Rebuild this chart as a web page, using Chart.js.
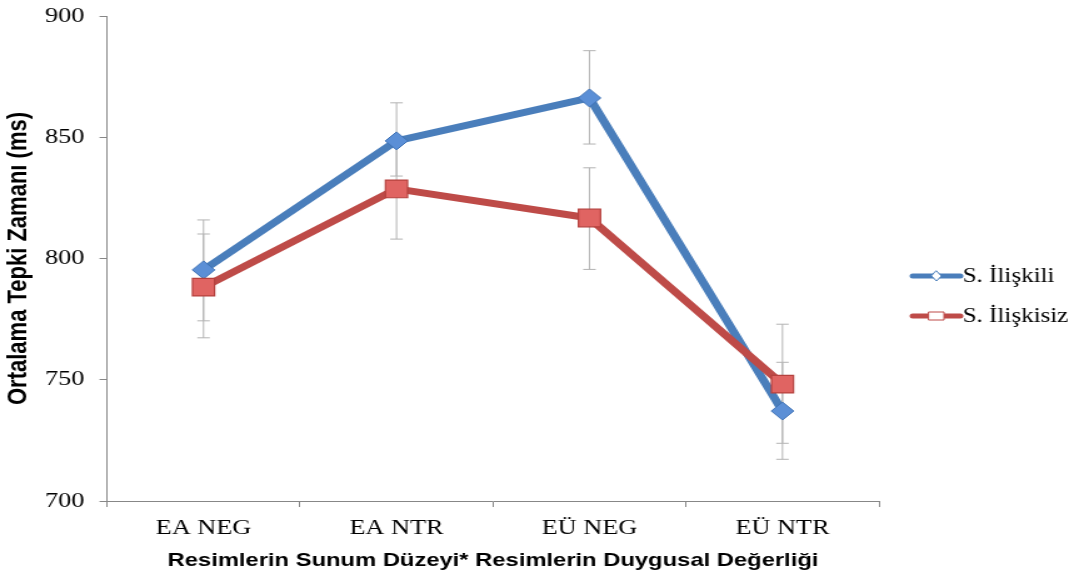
<!DOCTYPE html>
<html>
<head>
<meta charset="utf-8">
<script src="https://cdn.jsdelivr.net/npm/chart.js@4"></script>
<style>
  html, body { margin: 0; padding: 0; background: #ffffff; overflow: hidden; }
  #wrap { width: 867px; height: 575px; transform: scaleX(1.25029); transform-origin: 0 0; }
  canvas { display: block; }
</style>
</head>
<body>
<div id="wrap"><canvas id="c" width="867" height="575"></canvas></div>
<script>
const categories = ['EA NEG', 'EA NTR', 'EÜ NEG', 'EÜ NTR'];
const seriesNames = ['S. İlişkili', 'S. İlişkisiz'];
const iliskili = [795.3, 848.5, 866.2, 737.1];
const iliskisiz = [788.2, 828.7, 816.7, 748.2];
const iliskiliErrUp = [20.6, 15.7, 19.5, 20.1];
const iliskiliErrDown = [21.0, 14.5, 19.0, 13.3];
const iliskisizErrUp = [21.9, 20.7, 20.7, 24.7];
const iliskisizErrDown = [20.9, 20.7, 21.2, 31.0];
const yTicks = [700, 750, 800, 850, 900];

const errUp = [iliskiliErrUp, iliskisizErrUp];
const errDown = [iliskiliErrDown, iliskisizErrDown];

const BLUE = '#4A7EBB';
const RED = '#BE4B48';
const AXIS = '#878787';
const SERIF = "'Liberation Serif', 'Times New Roman', serif";
const SANS = "'Liberation Sans', Arial, sans-serif";

const errorBars = {
  id: 'errorBars',
  beforeDatasetsDraw(chart) {
    const ctx = chart.ctx;
    const ys = chart.scales.y;
    ctx.save();
    ctx.strokeStyle = '#B3B3B3';
    ctx.lineWidth = 1;
    chart.data.datasets.forEach((ds, i) => {
      const meta = chart.getDatasetMeta(i);
      ds.data.forEach((v, j) => {
        const x = meta.data[j].x;
        const yt = ys.getPixelForValue(v + errUp[i][j]);
        const yb = ys.getPixelForValue(v - errDown[i][j]);
        ctx.beginPath();
        ctx.moveTo(x, yt); ctx.lineTo(x, yb);
        ctx.moveTo(x - 5, yt); ctx.lineTo(x + 5, yt);
        ctx.moveTo(x - 5, yb); ctx.lineTo(x + 5, yb);
        ctx.stroke();
      });
    });
    ctx.restore();
  }
};

const customLegend = {
  id: 'customLegend',
  afterDraw(chart) {
    const ctx = chart.ctx;
    ctx.save();
    const x1 = 730, x2 = 768, tx = 770;
    const rows = [276, 316];
    chart.data.datasets.forEach((ds, i) => {
      const y = rows[i];
      ctx.strokeStyle = ds.borderColor;
      ctx.lineWidth = 5;
      ctx.lineCap = 'round';
      ctx.beginPath(); ctx.moveTo(x1, y); ctx.lineTo(x2, y); ctx.stroke();
      const cx = (x1 + x2) / 2;
      ctx.lineWidth = 1;
      ctx.fillStyle = '#ffffff';
      ctx.strokeStyle = ds.borderColor;
      ctx.beginPath();
      if (i === 0) {
        ctx.moveTo(cx, y - 5); ctx.lineTo(cx + 4, y); ctx.lineTo(cx, y + 5); ctx.lineTo(cx - 4, y); ctx.closePath();
      } else {
        ctx.rect(cx - 6, y - 4, 12, 8);
      }
      ctx.fill(); ctx.stroke();
      ctx.fillStyle = '#000000';
      ctx.font = '20px ' + SERIF;
      ctx.textBaseline = 'middle';
      ctx.textAlign = 'left';
      ctx.fillText(ds.label, tx, y + 1);
    });
    ctx.restore();
  }
};

new Chart(document.getElementById('c'), {
  type: 'line',
  data: {
    labels: categories,
    datasets: [
      {
        label: seriesNames[0],
        data: iliskili,
        borderColor: BLUE,
        borderWidth: 7,
        backgroundColor: '#5B8FD6',
        pointStyle: 'rectRot',
        pointRadius: 9,
        pointBorderColor: '#3F72B5',
        pointBorderWidth: 1,
        pointBackgroundColor: '#5B8FD6',
        tension: 0,
        order: 2
      },
      {
        label: seriesNames[1],
        data: iliskisiz,
        borderColor: RED,
        borderWidth: 7,
        backgroundColor: '#E06462',
        pointStyle: 'rect',
        pointRadius: 12.5,
        pointBorderColor: '#B5413E',
        pointBorderWidth: 1.2,
        pointBackgroundColor: '#E06462',
        tension: 0,
        order: 1
      }
    ]
  },
  options: {
    responsive: false,
    animation: false,
    events: [],
    layout: { padding: { top: 16, right: 164, left: 0, bottom: 0 } },
    plugins: {
      legend: { display: false },
      tooltip: { enabled: false }
    },
    scales: {
      x: {
        type: 'category',
        offset: true,
        grid: { display: true, offset: true, drawOnChartArea: false, drawTicks: true, tickLength: 6, color: AXIS },
        border: { display: true, color: AXIS, width: 1 },
        ticks: { color: '#000000', font: { family: SERIF, size: 21 }, padding: 9, maxRotation: 0 },
        title: {
          display: true,
          text: 'Resimlerin Sunum Düzeyi* Resimlerin Duygusal Değerliği',
          color: '#000000',
          font: { family: SANS, size: 19, weight: 'bold' },
          padding: { top: 4, bottom: 3 }
        },
        afterFit(scale) { scale.height = 74; }
      },
      y: {
        min: 700,
        max: 900,
        afterBuildTicks(scale) { scale.ticks = yTicks.map(v => ({ value: v })); },
        grid: { display: true, drawOnChartArea: false, drawTicks: true, tickLength: 6, color: AXIS },
        border: { display: true, color: AXIS, width: 1 },
        ticks: { color: '#000000', font: { family: SERIF, size: 21 }, padding: 12 },
        title: {
          display: true,
          text: 'Ortalama Tepki Zamanı (ms)',
          color: '#000000',
          font: { family: SANS, size: 22, weight: 'bold' },
          padding: { top: 2, bottom: 4 }
        },
        afterFit(scale) { scale.width = 85.6; scale.paddingTop = 0; }
      }
    }
  },
  plugins: [errorBars, customLegend]
});
</script>
</body>
</html>
